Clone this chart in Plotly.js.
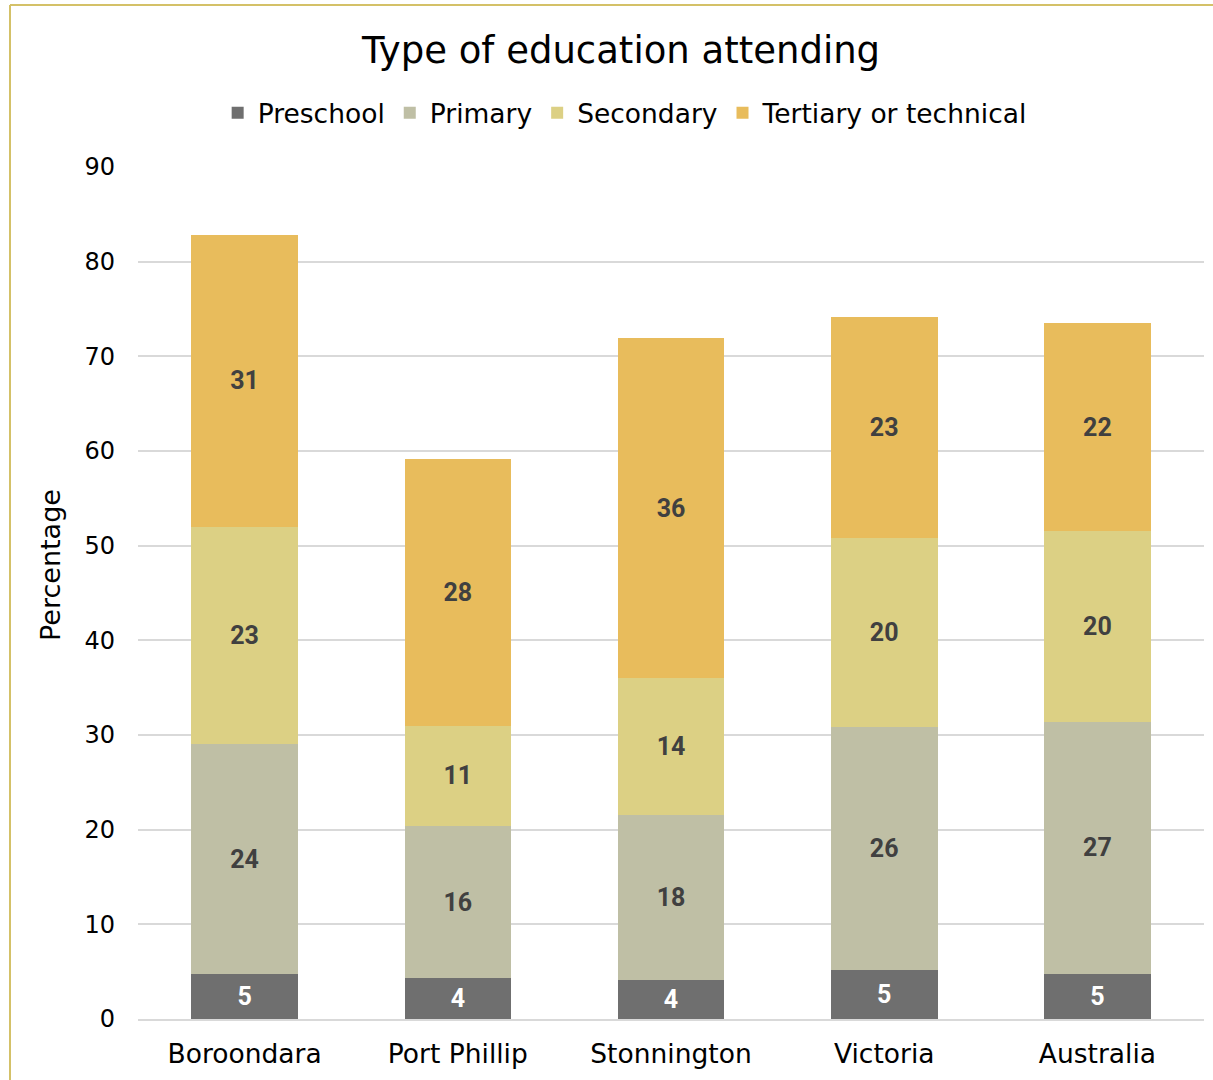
<!DOCTYPE html>
<html>
<head>
<meta charset="utf-8">
<script src="https://cdn.plot.ly/plotly-3.0.1.min.js"></script>
<style>
html,body{margin:0;padding:0;background:#fff;}
#chart{width:1213px;height:1080px;}
</style>
</head>
<body>
<div id="chart"></div>
<script>
const categories = ["Boroondara", "Port Phillip", "Stonnington", "Victoria", "Australia"];
const preschool = [4.8, 4.3, 4.1, 5.2, 4.8];
const primary = [24.2, 16.1, 17.5, 25.6, 26.6];
const secondary = [23.0, 10.6, 14.4, 20.0, 20.1];
const tertiary = [30.8, 28.1, 35.9, 23.3, 22.0];
const seriesNames = ["Preschool", "Primary", "Secondary", "Tertiary or technical"];
const yTicks = [0, 10, 20, 30, 40, 50, 60, 70, 80, 90];

const colors = ["#6f6f6f", "#bfbfa5", "#dcd084", "#e8bc5c"];
const labelColors = ["#ffffff", "#404040", "#404040", "#404040"];
const FONT = "DejaVu Sans, sans-serif";

const seriesValues = [preschool, primary, secondary, tertiary];
const traces = seriesValues.map((vals, i) => ({
  type: "bar",
  name: seriesNames[i],
  x: categories,
  y: vals,
  marker: {color: colors[i], line: {width: 0}},
  text: vals.map(v => Math.round(v).toString()),
  texttemplate: "%{text}",
  textposition: "inside",
  insidetextanchor: "middle",
  textangle: 0,
  textfont: {family: "Roboto, sans-serif", size: 25, color: labelColors[i], weight: "bold"},
  hoverinfo: "x+y+name"
}));

const layout = {
  width: 1213,
  height: 1080,
  barmode: "stack",
  bargap: 0.5,
  paper_bgcolor: "#ffffff",
  plot_bgcolor: "#ffffff",
  margin: {l: 138, r: 9, t: 166, b: 61, autoexpand: false},
  font: {family: FONT, color: "#000000"},
  title: {
    text: "Type of education attending",
    font: {family: FONT, size: 37, color: "#000000"},
    x: 0.512, xanchor: "center",
    y: 0.954, yanchor: "middle"
  },
  legend: {
    orientation: "h",
    x: 0.457, xanchor: "center",
    y: 1.062, yanchor: "middle",
    font: {family: FONT, size: 26.5, color: "#000000"},
    itemwidth: 30,
    traceorder: "normal",
    bgcolor: "rgba(0,0,0,0)"
  },
  xaxis: {
    type: "category",
    showgrid: false,
    showline: true,
    linecolor: "#d9d9d9",
    linewidth: 2,
    ticks: "",
    ticklabelstandoff: 10,
    tickfont: {family: FONT, size: 26.5, color: "#000000"},
    automargin: false
  },
  yaxis: {
    range: [0, 90.1],
    tickvals: yTicks,
    ticktext: yTicks.map(String),
    showgrid: true,
    gridcolor: "#d9d9d9",
    gridwidth: 2,
    zeroline: false,
    showline: false,
    ticks: "",
    ticklabelstandoff: 22,
    tickfont: {family: FONT, size: 24, color: "#000000"},
    automargin: false
  },
  annotations: [
    {text: "Percentage", xref: "paper", yref: "paper",
     x: (50 - 138) / 1066, y: (1019 - 565) / 853,
     xanchor: "center", yanchor: "middle", textangle: -90, showarrow: false,
     font: {family: FONT, size: 27, color: "#000000"}}
  ],
  shapes: [
    {type: "line", xref: "paper", yref: "paper",
     x0: (10 - 138) / 1066, x1: (10 - 138) / 1066, y0: -61 / 853, y1: (1019 - 5) / 853,
     line: {color: "#d4c168", width: 2}},
    {type: "line", xref: "paper", yref: "paper",
     x0: (10 - 138) / 1066, x1: (1213 - 138) / 1066, y0: (1019 - 5) / 853, y1: (1019 - 5) / 853,
     line: {color: "#d4c168", width: 2}}
  ],
  showlegend: true
};

Plotly.newPlot("chart", traces, layout, {displayModeBar: false, responsive: false});
</script>
</body>
</html>
